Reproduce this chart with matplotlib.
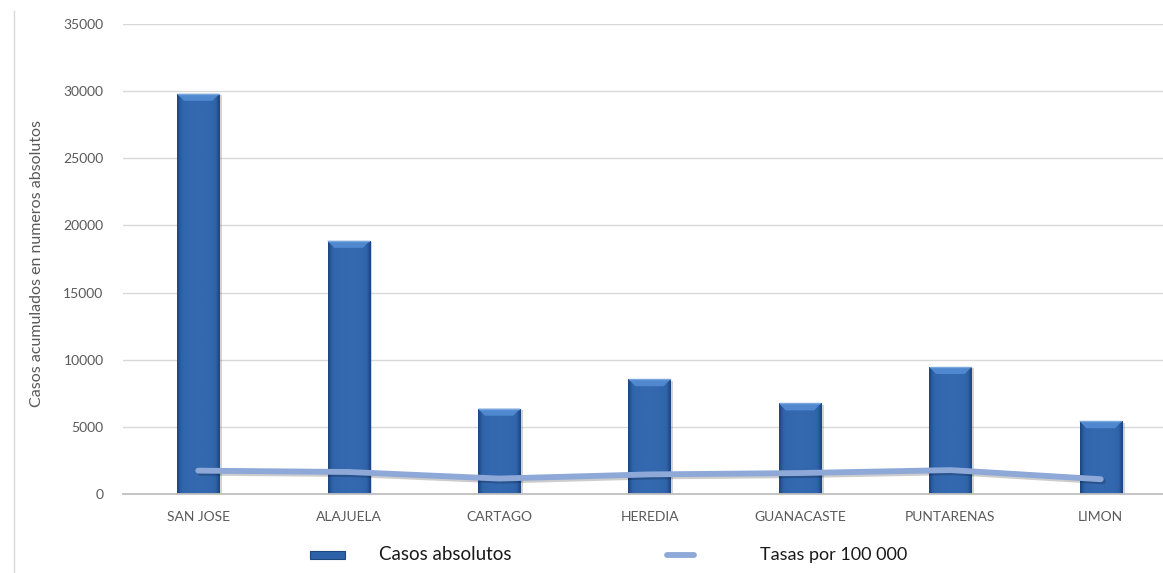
import matplotlib
matplotlib.use('Agg')
import matplotlib.pyplot as plt
import numpy as np
from matplotlib.patches import Polygon, Rectangle
from matplotlib.lines import Line2D
from matplotlib.colors import LinearSegmentedColormap
from matplotlib import patheffects as pe

provincias = ['SAN JOSE', 'ALAJUELA', 'CARTAGO', 'HEREDIA', 'GUANACASTE', 'PUNTARENAS', 'LIMON']
casos = [29800, 18850, 6350, 8550, 6750, 9450, 5420]
tasas = [1740, 1640, 1150, 1460, 1560, 1780, 1100]
yticks = [0, 5000, 10000, 15000, 20000, 25000, 30000, 35000]
leyenda = ['Casos absolutos', 'Tasas por 100 000']

plt.rcParams['font.family'] = ['Lato', 'DejaVu Sans']

W, H = 1163, 573
fig = plt.figure(figsize=(W / 100, H / 100), dpi=100)
ax = fig.add_axes([123 / W, 79 / H, 1053 / W, 470 / H])

x = np.arange(len(provincias))
bw = 0.28
bar_color = '#2E62A8'
line_color = '#8EA8D8'
bars = ax.bar(x, casos, width=bw, color=bar_color, edgecolor='none', zorder=2,
              path_effects=[pe.SimplePatchShadow(offset=(2, -1), alpha=0.25,
                                                 shadow_rgbFace='#555555'),
                            pe.Normal()])

# horizontal shading and bevelled top on each bar
cmap = LinearSegmentedColormap.from_list('bar', ['#1C467F', '#2F63AA', '#3469B0'])
profile = 1 - np.abs(np.linspace(-1, 1, 60)) ** 3
grad = profile[np.newaxis, :]
bev_h = 7 * 35000 / 470
bev_w = 0.045
for rect, val in zip(bars, casos):
    x0 = rect.get_x()
    x1 = x0 + rect.get_width()
    im = ax.imshow(grad, extent=[x0, x1, 0, val], cmap=cmap, aspect='auto',
                   zorder=2.1, interpolation='bilinear')
    im.set_clip_path(rect)
    top = Polygon([(x0, val), (x1, val), (x1 - bev_w, val - bev_h),
                   (x0 + bev_w, val - bev_h)], closed=True,
                  facecolor='#4F88CF', edgecolor='none', zorder=2.2)
    ax.add_patch(top)
    ax.plot([x0 + 0.005, x1 - 0.005], [val, val], color='#7AA6DE', lw=1, zorder=2.3)

# rate line
ax.plot(x, tasas, color=line_color, lw=4.2, solid_capstyle='round',
        solid_joinstyle='round', zorder=3,
        path_effects=[pe.SimpleLineShadow(offset=(1.5, -1.5), alpha=0.2),
                      pe.Normal()])

ax.set_xlim(-0.5, len(provincias) - 0.5)
ax.set_ylim(0, 35000)
ax.set_yticks(yticks)
ax.set_yticklabels([str(v) for v in yticks])
ax.set_xticks(x)
ax.set_xticklabels(provincias)
ax.tick_params(axis='both', length=0, labelsize=10, labelcolor='#595959')
ax.tick_params(axis='y', pad=14)
ax.tick_params(axis='x', pad=12)
ax.grid(axis='y', color='#D9D9D9', lw=1, zorder=0)
ax.set_axisbelow(True)
for side in ['top', 'right', 'left']:
    ax.spines[side].set_visible(False)
ax.spines['bottom'].set_color('#BFBFBF')
ax.spines['bottom'].set_linewidth(1.3)
ax.patch.set_alpha(0)

fig.text(37 / W, 1 - 263 / H, 'Casos acumulados en numeros absolutos',
         rotation=90, ha='center', va='center', fontsize=11.5, color='#595959')

# chart frame edge on the left
fig.add_artist(Line2D([14 / W, 14 / W], [0, 1 - 11 / H], transform=fig.transFigure,
                      color='#D9D9D9', lw=1))

# legend drawn by hand along the bottom
ly = 1 - 555 / H
fig.add_artist(Rectangle((310 / W, ly - 4 / H), 35 / W, 8 / H, transform=fig.transFigure,
                         facecolor=bar_color, edgecolor='#1C467F', lw=0.8))
fig.add_artist(Line2D([667 / W, 694 / W], [ly, ly], transform=fig.transFigure,
                      color=line_color, lw=4.2, solid_capstyle='round'))
fig.text(379 / W, ly, leyenda[0], ha='left', va='center', fontsize=13.5, color='#1a1a1a')
fig.text(760 / W, ly, leyenda[1], ha='left', va='center', fontsize=13, color='#1a1a1a')

fig.savefig('out.png', dpi=100)
